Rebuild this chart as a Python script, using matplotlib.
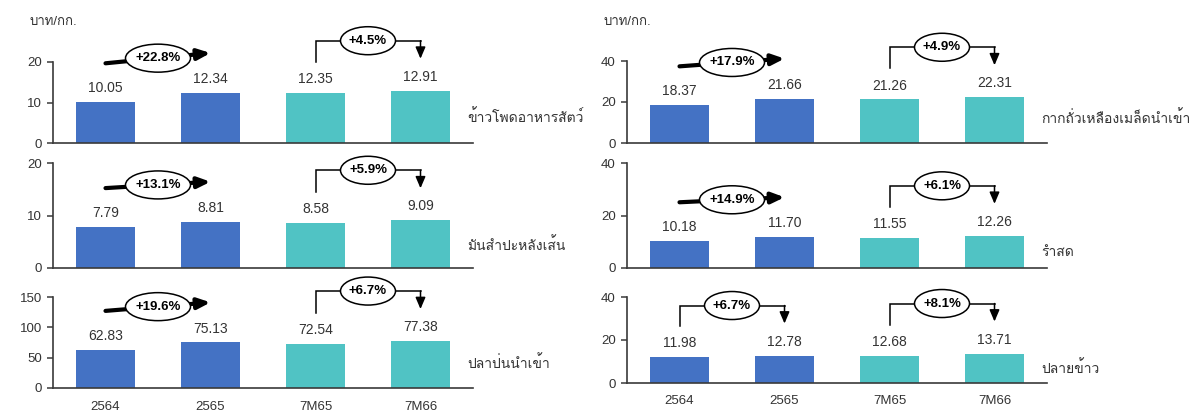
import matplotlib
matplotlib.use('Agg')
import matplotlib.pyplot as plt
from matplotlib import font_manager
from matplotlib.patches import Ellipse
from fontTools.ttLib import TTFont

# find a font with thai glyphs for the fallback list
thai_font = None
for f in font_manager.fontManager.ttflist:
    try:
        cmap = TTFont(f.fname, fontNumber=0, lazy=True).getBestCmap()
    except Exception:
        continue
    if cmap and 0x0E02 in cmap:
        thai_font = f.name
        break
fams = ['Liberation Sans']
if thai_font:
    fams.append(thai_font)
fams.append('DejaVu Sans')
plt.rcParams['font.family'] = fams

years = ['2564', '2565', '7M65', '7M66']

corn = [10.05, 12.34, 12.35, 12.91]
cassava = [7.79, 8.81, 8.58, 9.09]
fishmeal = [62.83, 75.13, 72.54, 77.38]
soymeal = [18.37, 21.66, 21.26, 22.31]
ricebran = [10.18, 11.70, 11.55, 12.26]
brokenrice = [11.98, 12.78, 12.68, 13.71]

names = ['ข้าวโพดอาหารสัตว์', 'มันสำปะหลังเส้น', 'ปลาป่นนำเข้า',
         'กากถั่วเหลืองเมล็ดนำเข้า', 'รำสด', 'ปลายข้าว']
pct_first = ['+22.8%', '+13.1%', '+19.6%', '+17.9%', '+14.9%', '+6.7%']
pct_second = ['+4.5%', '+5.9%', '+6.7%', '+4.9%', '+6.1%', '+8.1%']
first_style = ['straight', 'straight', 'straight', 'straight', 'straight', 'elbow']
ymax = [20, 20, 150, 40, 40, 40]
ystep = [10, 10, 50, 20, 20, 20]
unit = 'บาท/กก.'

series = [corn, cassava, fishmeal, soymeal, ricebran, brokenrice]

blue = '#4472C4'
teal = '#50C3C4'
txt = '#333333'

W, H = 1190, 413
# axes boxes in pixels: left, top, right, bottom
boxes = [(53, 62, 473, 143), (53, 163, 473, 268), (53, 297, 473, 388),
         (627, 61, 1047, 143), (627, 163, 1047, 268), (627, 297, 1047, 383)]
label_y = [0.32, 0.22, 0.27, 0.30, 0.15, 0.17]

fig = plt.figure(figsize=(W / 100, H / 100), dpi=100)


def px(ax, n):
    return n * ax.get_ylim()[1] / ax.bbox.height


def pxx(ax, n):
    lo, hi = ax.get_xlim()
    return n * (hi - lo) / ax.bbox.width


def ellipse_text(ax, x, y, s):
    w = 10 * len(s) + 5
    ax.add_patch(Ellipse((x, y), pxx(ax, w), px(ax, 28), fc='white', ec='black',
                         lw=1.1, zorder=6, clip_on=False))
    ax.text(x, y, s, ha='center', va='center', fontsize=9.5, fontweight='bold',
            color='black', zorder=7, clip_on=False)


def straight(ax, i, j, vals, s):
    y0 = vals[i] + px(ax, 39)
    y1 = vals[j] + px(ax, 40)
    ax.annotate('', xy=(j, y1), xytext=(i, y0), annotation_clip=False,
                arrowprops=dict(arrowstyle='-|>,head_length=0.75,head_width=0.32',
                                lw=3, color='black', shrinkA=0, shrinkB=0), zorder=5)
    ellipse_text(ax, (i + j) / 2, (y0 + y1) / 2, s)


def elbow(ax, i, j, vals, s):
    y0 = vals[i] + px(ax, 31)
    y1 = vals[j] + px(ax, 32)
    yt = max(y0, y1) + px(ax, 18)
    ax.plot([i, i, j], [y0, yt, yt], color='black', lw=1.1, clip_on=False,
            solid_joinstyle='miter', zorder=5)
    ax.annotate('', xy=(j, y1), xytext=(j, yt), annotation_clip=False,
                arrowprops=dict(arrowstyle='-|>,head_length=0.7,head_width=0.3',
                                lw=1.1, color='black', shrinkA=0, shrinkB=0), zorder=5)
    ellipse_text(ax, (i + j) / 2, yt, s)


for k, vals in enumerate(series):
    l, t, r, b = boxes[k]
    ax = fig.add_axes([l / W, 1 - b / H, (r - l) / W, (b - t) / H])
    x = range(len(years))
    ax.bar(x, vals, width=0.56, color=[blue, blue, teal, teal], zorder=2)
    ax.set_xlim(-0.5, 3.5)
    ax.set_ylim(0, ymax[k])
    ax.set_yticks(range(0, ymax[k] + 1, ystep[k]))
    for xi, v in zip(x, vals):
        ax.annotate(f'{v:.2f}', (xi, v), xytext=(0, 10), textcoords='offset points',
                    ha='center', va='center', fontsize=10, color=txt,
                    annotation_clip=False)
    for side in ['top', 'right']:
        ax.spines[side].set_visible(False)
    for side in ['left', 'bottom']:
        ax.spines[side].set_color('#3a3a3a')
        ax.spines[side].set_linewidth(1.2)
    ax.tick_params(axis='y', direction='out', length=4, width=1.1, color='#3a3a3a',
                   labelsize=9.5, labelcolor=txt, pad=4)
    ax.tick_params(axis='x', length=0, labelsize=9.5, labelcolor=txt, pad=9)
    if k in (2, 5):
        ax.set_xticks(list(x))
        ax.set_xticklabels(years)
    else:
        ax.set_xticks([])
    ax.text(0.986, label_y[k], names[k], transform=ax.transAxes, ha='left',
            va='center', fontsize=10, color=txt, clip_on=False)
    if first_style[k] == 'elbow':
        elbow(ax, 0, 1, vals, pct_first[k])
    else:
        straight(ax, 0, 1, vals, pct_first[k])
    elbow(ax, 2, 3, vals, pct_second[k])

fig.text(30 / W, 1 - 22 / H, unit, ha='left', va='center', fontsize=9.5, color=txt)
fig.text(603 / W, 1 - 22 / H, unit, ha='left', va='center', fontsize=9.5, color=txt)

fig.savefig('out.png', dpi=100)
